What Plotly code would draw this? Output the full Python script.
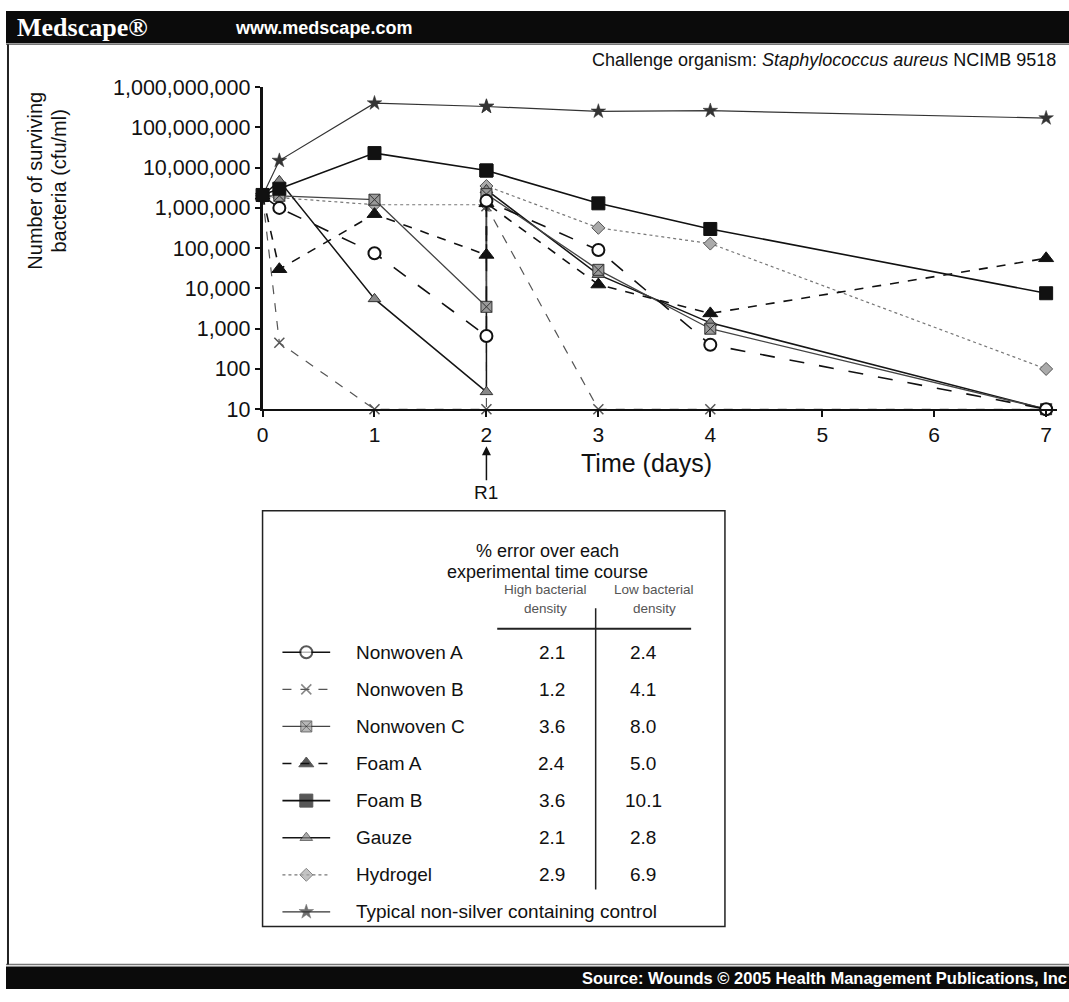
import plotly.graph_objects as go

W, H = 1069, 1002

# ---------------- data ----------------
days = [0, 0.15, 1, 2, 2, 3, 4, 7]   # second value at day 2 = after re-challenge R1

nonwoven_a = [2.0e6, 1.0e6, 7.5e4, 6.6e2, 1.5e6, 9.0e4, 4.0e2, 10]
nonwoven_b = [2.0e6, 4.5e2, 10, 10, 1.1e6, 10, 10, 10]
nonwoven_c = [2.0e6, 2.0e6, 1.6e6, 3.5e3, 2.2e6, 2.9e4, 1.0e3, 10]
foam_a     = [2.0e6, 3.0e4, 7.0e5, 6.8e4, 1.3e6, 1.25e4, 2.4e3, 5.6e4]
foam_b     = [2.1e6, 3.0e6, 2.3e7, 8.5e6, 8.5e6, 1.3e6, 3.0e5, 7.6e3]
gauze      = [2.0e6, 4.7e6, 5.5e3, 27, 2.8e6, 2.2e4, 1.4e3, 10]
hydrogel   = [2.0e6, 1.8e6, 1.2e6, 1.2e6, 3.5e6, 3.2e5, 1.3e5, 100]
control    = [2.0e6, 1.5e7, 4.0e8, 3.3e8, 3.3e8, 2.5e8, 2.6e8, 1.7e8]

legend_names = ["Nonwoven A", "Nonwoven B", "Nonwoven C", "Foam A", "Foam B",
                "Gauze", "Hydrogel", "Typical non-silver containing control"]
pct_high = ["2.1", "1.2", "3.6", "2.4", "3.6", "2.1", "2.9"]
pct_low  = ["2.4", "4.1", "8.0", "5.0", "10.1", "2.8", "6.9"]

y_tick_vals = [10, 100, 1e3, 1e4, 1e5, 1e6, 1e7, 1e8, 1e9]
y_tick_text = ["10", "100", "1,000", "10,000", "100,000", "1,000,000",
               "10,000,000", "100,000,000", "1,000,000,000"]
x_tick_vals = [0, 1, 2, 3, 4, 5, 6, 7]

# ---------------- styles ----------------
styles = {
    "Nonwoven A": dict(line=dict(color="#111", width=1.6, dash="longdash"),
                       marker=dict(symbol="circle", size=12, color="white",
                                   line=dict(color="#111", width=2))),
    "Nonwoven B": dict(line=dict(color="#555", width=1.2, dash="dash"),
                       marker=dict(symbol="x-thin", size=10, color="#555",
                                   line=dict(color="#555", width=1.5))),
    "Nonwoven C": dict(line=dict(color="#444", width=1.3),
                       marker=dict(symbol="square-x", size=11, color="#999",
                                   line=dict(color="#333", width=1))),
    "Foam A": dict(line=dict(color="#111", width=1.6, dash="dash"),
                   marker=dict(symbol="triangle-up", size=13, color="#111",
                               line=dict(color="#111", width=1))),
    "Foam B": dict(line=dict(color="#111", width=1.6),
                   marker=dict(symbol="square", size=13, color="#111",
                               line=dict(color="#111", width=1))),
    "Gauze": dict(line=dict(color="#151515", width=1.5),
                  marker=dict(symbol="triangle-up", size=11, color="#888",
                              line=dict(color="#333", width=1))),
    "Hydrogel": dict(line=dict(color="#777", width=1.2, dash="dot"),
                     marker=dict(symbol="diamond", size=10, color="#aaa",
                                 line=dict(color="#555", width=1))),
    "Typical non-silver containing control": dict(
        line=dict(color="#333", width=1.2),
        marker=dict(symbol="star", size=11, color="#333",
                    line=dict(color="#333", width=0.5))),
}

series = {
    "Nonwoven A": nonwoven_a, "Nonwoven B": nonwoven_b, "Nonwoven C": nonwoven_c,
    "Foam A": foam_a, "Foam B": foam_b, "Gauze": gauze, "Hydrogel": hydrogel,
    "Typical non-silver containing control": control,
}
draw_order = ["Hydrogel", "Typical non-silver containing control", "Nonwoven B",
              "Gauze", "Nonwoven C", "Foam A", "Nonwoven A", "Foam B"]

FONT = "Liberation Sans, Arial, sans-serif"


def px(x):
    return x / W


def py(y):
    return 1 - y / H


fig = go.Figure()
for name in draw_order:
    st = styles[name]
    fig.add_trace(go.Scatter(x=days, y=series[name], mode="lines+markers",
                             name=name, line=st["line"], marker=st["marker"],
                             cliponaxis=False, showlegend=False))

# ---------------- legend table (drawn on a pixel-space overlay axis) ----------------
row0, row_step = 657, 38.0
for i, name in enumerate(legend_names):
    st = styles[name]
    yy = row0 + i * row_step
    m = dict(st["marker"])
    m["size"] = [0, st["marker"]["size"], 0]
    ln = dict(st["line"])
    if name == "Nonwoven A":
        ln["dash"] = "solid"
    fig.add_trace(go.Scatter(x=[278, 302, 326], y=[yy, yy, yy], mode="lines+markers",
                             line=ln, marker=m, xaxis="x2", yaxis="y2",
                             showlegend=False, cliponaxis=False, hoverinfo="skip"))

annotations = []
for i, name in enumerate(legend_names):
    yy = row0 + i * row_step
    annotations.append(dict(x=px(350), y=py(yy), xref="paper", yref="paper",
                            text=name, showarrow=False, xanchor="left", yanchor="middle",
                            font=dict(family=FONT, size=19, color="#111")))
for i in range(len(pct_high)):
    yy = row0 + i * row_step
    annotations.append(dict(x=px(549), y=py(yy), xref="paper", yref="paper",
                            text=pct_high[i], showarrow=False, xanchor="center",
                            yanchor="middle", font=dict(family=FONT, size=19, color="#111")))
    annotations.append(dict(x=px(641), y=py(yy), xref="paper", yref="paper",
                            text=pct_low[i], showarrow=False, xanchor="center",
                            yanchor="middle", font=dict(family=FONT, size=19, color="#111")))

for txt, yy in [("% error over each", 553), ("experimental time course", 575)]:
    annotations.append(dict(x=px(545), y=py(yy), xref="paper", yref="paper", text=txt,
                            showarrow=False, xanchor="center", yanchor="middle",
                            font=dict(family=FONT, size=18, color="#111")))
for txt, xx, yy in [("High bacterial", 543, 593), ("density", 543, 612),
                    ("Low bacterial", 652, 593), ("density", 652, 612)]:
    annotations.append(dict(x=px(xx), y=py(yy), xref="paper", yref="paper", text=txt,
                            showarrow=False, xanchor="center", yanchor="middle",
                            font=dict(family=FONT, size=13.5, color="#555")))

# header / footer / titles
annotations += [
    dict(x=px(9), y=py(17), xref="paper", yref="paper", text="<b>Medscape®</b>",
         showarrow=False, xanchor="left", yanchor="middle",
         font=dict(family="Liberation Serif, Times New Roman, serif", size=26, color="white")),
    dict(x=px(228), y=py(17), xref="paper", yref="paper", text="<b>www.medscape.com</b>",
         showarrow=False, xanchor="left", yanchor="middle",
         font=dict(family=FONT, size=18, color="white")),
    dict(x=px(1069), y=py(991), xref="paper", yref="paper",
         text="<b>Source: Wounds © 2005 Health Management Publications, Inc</b>",
         showarrow=False, xanchor="right", yanchor="middle",
         font=dict(family=FONT, size=16.5, color="white")),
    dict(x=px(1058), y=py(50), xref="paper", yref="paper",
         text="Challenge organism: <i>Staphylococcus aureus</i> NCIMB 9518",
         showarrow=False, xanchor="right", yanchor="middle",
         font=dict(family=FONT, size=18, color="#111")),
    dict(x=px(29), y=py(174), xref="paper", yref="paper", text="Number of surviving",
         showarrow=False, textangle=-90, xanchor="center", yanchor="middle",
         font=dict(family=FONT, size=20, color="#111")),
    dict(x=px(53), y=py(174), xref="paper", yref="paper", text="bacteria (cfu/ml)",
         showarrow=False, textangle=-90, xanchor="center", yanchor="middle",
         font=dict(family=FONT, size=20, color="#111")),
    dict(x=px(644), y=py(463), xref="paper", yref="paper", text="Time (days)",
         showarrow=False, xanchor="center", yanchor="middle",
         font=dict(family=FONT, size=25, color="#111")),
    dict(x=2, y=py(446), xref="x", yref="paper", text="R1", showarrow=True,
         arrowhead=2, arrowsize=1.2, arrowwidth=1.5, arrowcolor="#111",
         ax=0, ay=34, standoff=0, yanchor="top",
         font=dict(family=FONT, size=19, color="#111")),
]

shapes = [
    # header and footer bars
    dict(type="rect", xref="paper", yref="paper", x0=0, x1=1, y0=1, y1=py(33),
         fillcolor="#0b0b0b", line=dict(width=0), layer="below"),
    dict(type="line", xref="paper", yref="paper", x0=0, x1=1, y0=py(34), y1=py(34),
         line=dict(color="#777", width=1.5)),
    dict(type="rect", xref="paper", yref="paper", x0=0, x1=1, y0=py(979), y1=0,
         fillcolor="#0b0b0b", line=dict(width=0), layer="below"),
    dict(type="line", xref="paper", yref="paper", x0=0, x1=1, y0=py(977), y1=py(977),
         line=dict(color="#777", width=1.5)),
    dict(type="line", xref="paper", yref="paper", x0=px(2), x1=px(2), y0=py(34), y1=py(977),
         line=dict(color="#222", width=2)),
    # legend box
    dict(type="rect", xref="paper", yref="paper", x0=px(258), x1=px(723), y0=py(512),
         y1=py(938), line=dict(color="#222", width=1.5), fillcolor="rgba(0,0,0,0)"),
    dict(type="line", xref="paper", yref="paper", x0=px(494), x1=px(689), y0=py(633),
         y1=py(633), line=dict(color="#222", width=2)),
    dict(type="line", xref="paper", yref="paper", x0=px(593), x1=px(593), y0=py(612),
         y1=py(900), line=dict(color="#222", width=1.5)),
]

day_px = (1046 - 258) / 7.0
x_end = 7.1
fig.update_layout(
    width=W, height=H, margin=dict(l=0, r=0, t=0, b=0),
    paper_bgcolor="white", plot_bgcolor="rgba(0,0,0,0)",
    showlegend=False,
    xaxis=dict(domain=[px(258), px(258 + x_end * day_px)], range=[0, x_end],
               tickvals=x_tick_vals, ticks="outside", ticklen=6, tickwidth=1.5,
               tickcolor="#111", showline=True, linecolor="#111", linewidth=1.5,
               showgrid=False, zeroline=False,
               tickfont=dict(family=FONT, size=21, color="#111")),
    yaxis=dict(domain=[py(408), py(78)], type="log", range=[1, 9],
               tickvals=y_tick_vals, ticktext=y_tick_text, ticks="outside",
               ticklen=5, tickwidth=1.5, tickcolor="#111", showline=True,
               linecolor="#111", linewidth=2.5, showgrid=False, zeroline=False,
               tickfont=dict(family=FONT, size=21.5, color="#111")),
    # overlay axis in page pixels, used only for the legend samples
    xaxis2=dict(domain=[0, 1], range=[0, W], visible=False, anchor="y2"),
    yaxis2=dict(domain=[0, 1], range=[H, 0], visible=False, anchor="x2"),
    annotations=annotations, shapes=shapes,
)

fig.write_html("out.html", config={"displayModeBar": False},
               post_script="document.body.style.margin='0';"
                           "document.documentElement.style.overflow='hidden';"
                           "document.body.style.overflow='hidden';")
